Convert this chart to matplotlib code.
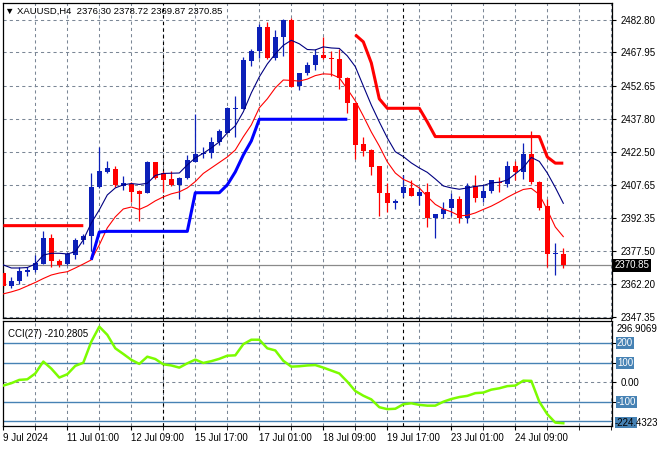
import numpy as np
import matplotlib
matplotlib.use('Agg')
import matplotlib.pyplot as plt
from matplotlib.patches import Rectangle

plt.rcParams['font.family'] = ['Liberation Sans', 'DejaVu Sans']
nan = np.nan

# XAUUSD H4 candles, 9 Jul - 24 Jul 2024
opens = [2367.4, 2361.6, 2363.9, 2368.0, 2368.7, 2371.7, 2383.3, 2372.8, 2371.7, 2375.8,
         2382.3, 2384.3, 2406.5, 2413.6, 2414.9, 2407.2, 2408.1, 2404.8, 2403.8, 2417.9,
         2412.9, 2410.3, 2407.7, 2410.8, 2418.2, 2421.6, 2422.0, 2427.0, 2431.4, 2442.2,
         2442.3, 2464.2, 2468.5, 2479.6, 2465.2, 2474.9, 2482.8, 2452.6, 2458.5, 2462.3,
         2466.7, 2465.3, 2465.0, 2456.4, 2444.8, 2426.3, 2423.7, 2416.2, 2403.9, 2399.2,
         2403.8, 2406.3, 2402.7, 2404.4, 2392.7, 2394.1, 2396.9, 2401.0, 2392.4, 2407.2,
         2401.8, 2405.0, 2409.1, 2407.9, 2416.2, 2413.3, 2421.6, 2409.1, 2398.0, 2376.1,
         2376.30]
highs = [2368.5, 2365.6, 2370.0, 2370.3, 2375.5, 2386.6, 2385.1, 2373.8, 2377.0, 2383.4,
         2385.1, 2413.2, 2424.8, 2418.4, 2416.4, 2411.7, 2408.9, 2405.3, 2418.5, 2417.9,
         2413.8, 2413.8, 2411.0, 2421.1, 2439.8, 2425.0, 2429.5, 2433.1, 2443.3, 2448.1,
         2465.9, 2469.7, 2480.8, 2482.0, 2478.4, 2483.0, 2483.7, 2458.8, 2463.8, 2469.4,
         2474.9, 2468.5, 2469.7, 2456.6, 2445.0, 2429.5, 2423.9, 2416.4, 2408.6, 2401.0,
         2412.1, 2409.8, 2406.8, 2408.3, 2394.3, 2400.0, 2403.9, 2402.5, 2408.3, 2412.1,
         2407.6, 2409.9, 2411.3, 2418.5, 2418.5, 2426.6, 2432.2, 2409.3, 2401.2, 2381.0,
         2378.72]
lows = [2360.6, 2360.7, 2362.5, 2366.2, 2368.0, 2371.7, 2370.3, 2370.0, 2371.2, 2373.8,
        2380.8, 2377.6, 2406.2, 2412.9, 2406.8, 2405.3, 2399.7, 2391.3, 2403.8, 2410.4,
        2404.5, 2407.3, 2401.3, 2410.4, 2418.0, 2419.7, 2419.7, 2425.8, 2431.2, 2429.3,
        2442.1, 2462.0, 2465.5, 2465.0, 2464.6, 2466.5, 2452.2, 2450.9, 2457.7, 2460.0,
        2465.0, 2457.0, 2451.3, 2440.2, 2419.6, 2420.8, 2412.1, 2393.6, 2395.1, 2396.6,
        2402.2, 2402.5, 2398.4, 2388.5, 2383.5, 2392.4, 2393.4, 2390.4, 2390.2, 2399.7,
        2399.7, 2403.8, 2404.2, 2406.8, 2409.8, 2410.3, 2407.9, 2396.2, 2370.3, 2366.5,
        2369.87]
closes = [2361.5, 2363.8, 2368.3, 2368.8, 2372.0, 2383.3, 2373.0, 2371.1, 2376.1, 2382.5,
          2384.2, 2406.5, 2413.8, 2415.2, 2407.6, 2408.3, 2404.5, 2403.6, 2418.0, 2410.9,
          2410.0, 2407.7, 2410.6, 2418.8, 2421.7, 2422.0, 2427.2, 2432.2, 2442.8, 2442.7,
          2464.4, 2468.8, 2479.6, 2465.2, 2474.9, 2482.8, 2452.4, 2458.5, 2462.1, 2466.8,
          2465.2, 2464.9, 2456.2, 2444.8, 2425.8, 2423.2, 2415.9, 2403.8, 2399.2, 2400.3,
          2406.7, 2402.7, 2404.4, 2392.6, 2394.2, 2396.5, 2401.0, 2392.4, 2407.2, 2401.8,
          2404.8, 2409.7, 2408.3, 2416.2, 2413.3, 2421.6, 2409.1, 2396.9, 2376.1, 2376.7,
          2370.85]

# moving averages
ma_fast = [2371.1, 2369.7, 2369.7, 2369.9, 2371.5, 2375.6, 2376.4, 2376.4, 2376.1, 2377.1,
           2382.5, 2390.2, 2396.2, 2403.0, 2406.2, 2407.6, 2408.2, 2407.8, 2408.3, 2411.9,
           2412.8, 2412.9, 2413.0, 2416.7, 2419.9, 2422.0, 2424.4, 2427.2, 2431.3, 2434.5,
           2440.9, 2449.5, 2456.8, 2462.7, 2467.3, 2471.2, 2473.5, 2471.9, 2469.3, 2469.1,
           2470.5, 2470.0, 2469.8, 2466.4, 2461.5, 2452.7, 2444.0, 2436.3, 2429.0, 2422.7,
           2420.5, 2417.6, 2415.3, 2413.3, 2410.3, 2407.1, 2406.2, 2405.6, 2406.2, 2406.9,
           2407.3, 2408.5, 2408.8, 2409.8, 2412.6, 2415.5, 2420.1, 2418.3, 2413.0, 2406.4,
           2399.2]
ma_slow = [2357.9, 2358.8, 2359.9, 2361.5, 2363.1, 2364.9, 2366.5, 2367.4, 2368.0, 2369.7,
           2371.5, 2373.4, 2380.2, 2388.0, 2393.0, 2396.6, 2397.5, 2396.4, 2398.0, 2400.3,
           2402.1, 2403.5, 2404.4, 2406.2, 2409.1, 2412.8, 2415.3, 2417.8, 2420.3, 2423.5,
           2429.5, 2434.9, 2442.7, 2446.8, 2451.8, 2455.4, 2455.2, 2454.9, 2455.8, 2457.4,
           2458.2, 2458.0, 2456.4, 2451.3, 2445.9, 2439.0, 2431.7, 2425.3, 2418.1, 2413.0,
           2410.1, 2408.5, 2406.2, 2402.3, 2398.7, 2396.6, 2395.3, 2393.5, 2393.7, 2394.8,
           2396.4, 2397.9, 2399.8, 2401.9, 2403.8, 2405.5, 2406.0, 2403.2, 2396.2, 2388.4,
           2384.0]

# trailing stop lines
stop_up = ([2389.0] * 11 + [nan] * 33 + [2476.0, 2472.8, 2463.2, 2446.8] + [2442.5] * 5
           + [2436.3] + [2429.6] * 14 + [2420.3, 2417.5, 2417.5])
stop_dn = ([nan] * 11 + [2373.4, 2386.1] + [2386.4] * 11 + [2404.0] * 4
           + [2407.6, 2413.5, 2421.2, 2427.6] + [2437.5] * 12 + [nan] * 27)

# CCI(27)
cci = [-17, -5, 12, 15, 45, 106, 70, 24, 41, 84,
       100, 208, 285, 243, 174, 145, 115, 94, 131, 119,
       92, 86, 75, 97, 116, 99, 108, 120, 136, 138,
       195, 218, 218, 174, 163, 110, 80, 82, 86, 88,
       75, 60, 45, 3, -45, -69, -88, -128, -138, -136,
       -113, -108, -116, -120, -120, -100, -86, -76, -70, -56,
       -53, -38, -31, -20, -17, 8, 7, -100, -164, -207,
       -210.28]

price_ticks = [2482.80, 2467.95, 2452.65, 2437.80, 2422.50, 2407.65, 2392.35, 2377.50, 2362.20, 2347.35]
date_bars = [0, 8, 16, 24, 32, 40, 48, 56, 64]
date_labels = ['9 Jul 2024', '11 Jul 01:00', '12 Jul 09:00', '15 Jul 17:00', '17 Jul 01:00',
               '18 Jul 09:00', '19 Jul 17:00', '23 Jul 01:00', '24 Jul 09:00']
separators = [20, 50]
last_price = 2370.85

bull = '#0c20b8'
bear = '#ff0000'
gridc = '#7b8796'
dash = (0, (3, 3))

x = np.arange(len(opens))
o = np.array(opens); h = np.array(highs); l = np.array(lows); c = np.array(closes)
up = c >= o
cols = np.where(up, bull, bear)

fig = plt.figure(figsize=(6.6, 4.5), dpi=100)
ax = fig.add_axes([3/660, 1-318/450, 609/660, 315/450])
ax2 = fig.add_axes([3/660, 1-426/450, 609/660, 105/450], sharex=ax)

ax.set_xlim((3 - 3.3) / 8, (612 - 3.3) / 8)
ax.set_ylim(2346.9, 2490.5)

# grid
for yv in price_ticks:
    ax.axhline(yv, color=gridc, lw=0.75, ls=dash, zorder=0)
for xv in range(4, 77, 4):
    ax.axvline(xv, color=gridc, lw=0.75, ls=dash, zorder=0)
    ax2.axvline(xv, color=gridc, lw=0.75, ls=dash, zorder=0)
for xv in separators:
    ax.axvline(xv, color='black', lw=0.8, ls=dash, zorder=1)
    ax2.axvline(xv, color='black', lw=0.8, ls=dash, zorder=1)

ax.axhline(last_price, color='#8a8a8a', lw=0.9, zorder=1)

# candles
ax.vlines(x, l, h, colors=cols, lw=0.9, zorder=2)
body = np.maximum(np.abs(c - o), 0.45)
ax.bar(x, body, bottom=np.minimum(o, c), width=0.62, color=cols, lw=0, zorder=3)

ax.plot(x, ma_fast, color='#000080', lw=0.8, zorder=4)
ax.plot(x, ma_slow, color='#ff0000', lw=0.8, zorder=4)
ax.plot(x, stop_up, color='#ff0000', lw=2.2, zorder=4, solid_capstyle='butt')
ax.plot(x, stop_dn, color='#0000ff', lw=2.2, zorder=4, solid_capstyle='butt')

ax.yaxis.tick_right()
ax.set_yticks(price_ticks)
ax.set_yticklabels(['%.2f' % v for v in price_ticks])
ax.tick_params(axis='y', labelsize=7, length=3, pad=3, colors='black')
ax.tick_params(axis='x', bottom=False, labelbottom=False)
ax.text(1.004, last_price, '%.2f' % last_price, transform=ax.get_yaxis_transform(),
        fontsize=7, color='white', va='center', ha='left',
        bbox=dict(boxstyle='square,pad=0.15', fc='black', ec='none'))

fig.text(5/660, 1-11/450, '\u25bc XAUUSD,H4  %.2f %.2f %.2f %.2f' % (opens[-1], highs[-1], lows[-1], closes[-1]),
         fontsize=6.8, va='center', ha='left', color='black')

# CCI panel
ax2.set_ylim(-224.43, 314)
ax2.axhline(0, color=gridc, lw=0.75, ls=dash, zorder=0)
for lv in [200, 100, -100, -200]:
    ax2.axhline(lv, color='#4682b4', lw=1.0, zorder=1)
ax2.plot(x, cci, color='#7cfc00', lw=1.8, zorder=3)

ax2.yaxis.tick_right()
ax2.set_yticks([200, 100, 0, -100])
ax2.set_yticklabels(['', '', '0.00', ''])
ax2.tick_params(axis='y', labelsize=7, length=3, pad=3)
tr = ax2.get_yaxis_transform()
for lv, txt in [(200, '200'), (100, '100'), (-100, '-100')]:
    ax2.text(1.008, lv, txt, transform=tr, fontsize=7, color='white', va='center', ha='left',
             bbox=dict(boxstyle='square,pad=0.12', fc='#4682b4', ec='none'))
# level box at the bottom, partly hidden by the scale minimum
fig.patches.append(Rectangle((615/660, 1-428/450), 22/660, 11/450, transform=fig.transFigure,
                             fc='#4682b4', ec='none', zorder=1))
fig.text(615/660, 1-422.5/450, '-224.4323', fontsize=7, color='black', va='center', ha='left', zorder=5)
ax2.text(1.008, 0.925, '296.9069', transform=ax2.transAxes, fontsize=7, va='center', ha='left')
ax2.text(5/609, 0.88, 'CCI(27) -210.2805', transform=ax2.transAxes, fontsize=7, va='center', ha='left')

ax2.set_xticks(date_bars)
ax2.set_xticklabels(date_labels)
for t in ax2.get_xticklabels():
    t.set_ha('left')
ax2.set_xticks(range(4, 77, 4), minor=True)
ax2.tick_params(axis='x', which='both', labelsize=7, length=3, pad=2)

for a in (ax, ax2):
    for s in a.spines.values():
        s.set_color('black')
        s.set_linewidth(0.9)

fig.savefig('out.png', dpi=100, facecolor='white')
